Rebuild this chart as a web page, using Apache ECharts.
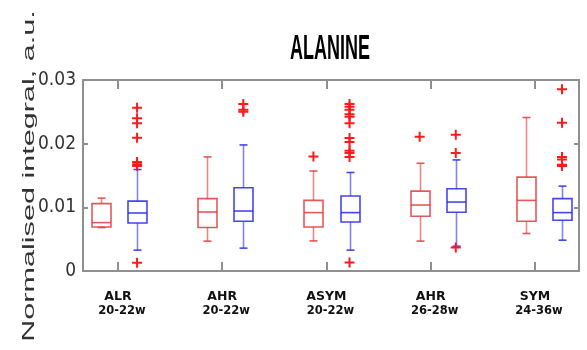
<!DOCTYPE html>
<html>
<head>
<meta charset="utf-8">
<script src="https://cdn.jsdelivr.net/npm/echarts@6/dist/echarts.min.js"></script>
<style>
  html, body { margin: 0; padding: 0; background: #fff; }
  #chart { width: 587px; height: 350px; }
</style>
</head>
<body>
<div id="chart"></div>
<script>
// Group labels (two lines each)
const groups = ['ALR', 'AHR', 'ASYM', 'AHR', 'SYM'];
const periods = ['20-22w', '20-22w', '20-22w', '26-28w', '24-36w'];

// Red boxes: whisker min, Q1, median, Q3, whisker max
const redMin = [0.00683, 0.00469, 0.00473, 0.00469, 0.00589];
const redQ1  = [0.00692, 0.00683, 0.00692, 0.00859, 0.00781];
const redMed = [0.00760, 0.00927, 0.00917, 0.01036, 0.01109];
const redQ3  = [0.01058, 0.01136, 0.01109, 0.01255, 0.01474];
const redMax = [0.01145, 0.01792, 0.01570, 0.01692, 0.02411];

// Blue boxes
const blueMin = [0.00328, 0.00359, 0.00328, 0.00390, 0.00484];
const blueQ1  = [0.00755, 0.00781, 0.00770, 0.00922, 0.00797];
const blueMed = [0.00911, 0.00942, 0.00917, 0.01083, 0.00917];
const blueQ3  = [0.01098, 0.01308, 0.01177, 0.01292, 0.01136];
const blueMax = [0.01594, 0.01980, 0.01547, 0.01745, 0.01333];

// Outliers per group
const redOutliers = [
  [],
  [],
  [0.01800],
  [0.02110],
  []
];
const blueOutliers = [
  [0.02563, 0.02398, 0.02320, 0.02094, 0.01711, 0.01677, 0.01648, 0.00130],
  [0.02625, 0.02531, 0.02500],
  [0.02625, 0.02578, 0.02531, 0.02461, 0.02422, 0.02320, 0.02089, 0.02027, 0.01890, 0.01852, 0.01792, 0.00133],
  [0.02140, 0.01855, 0.00370],
  [0.02855, 0.02328, 0.01792, 0.01750, 0.01667, 0.01648]
];

// Layout / style constants
const X_MIN = 0.661, X_MAX = 5.33;   // value range of the plot frame
const OFFSET = 0.17;                 // box offset from the group centre, in group units
const BOX_W = 19;                    // px
const CAP_W = 8;                     // px
const RED = 'rgba(222,60,60,0.85)';
const RED_W = 'rgba(230,95,95,0.75)';
const BLUE = 'rgba(50,50,235,0.9)';
const BLUE_W = 'rgba(90,90,240,0.75)';
const AXIS_GRAY = '#8f8f8f';
const PLUS = 'path://M4,0h2v4h4v2h-4v4h-2v-4h-4v-2h4z';

// Plot frame geometry
const FRAME = { left: 83, right: 8, top: 80, bottom: 79 };
const chartW = 587;
const plotW = chartW - FRAME.left - FRAME.right;
const unitPx = plotW / (X_MAX - X_MIN);
// A second grid whose category bands are centred on the groups (for ticks + labels)
const BAND_GRID = {
  left: FRAME.left + (1 - X_MIN) * unitPx - unitPx / 2,
  right: FRAME.right + (X_MAX - groups.length) * unitPx - unitPx / 2,
  top: FRAME.top,
  bottom: FRAME.bottom
};

function boxData(mins, q1s, meds, q3s, maxs, shift) {
  return mins.map((v, i) => [i + 1 + shift, v, q1s[i], meds[i], q3s[i], maxs[i]]);
}
function outlierData(list, shift) {
  const out = [];
  list.forEach((vals, i) => vals.forEach(v => out.push([i + 1 + shift, v])));
  return out;
}

function makeRenderer(boxColor, whiskerColor) {
  return function (params, api) {
    const x = api.value(0);
    const pMin = api.coord([x, api.value(1)]);
    const pQ1 = api.coord([x, api.value(2)]);
    const pMed = api.coord([x, api.value(3)]);
    const pQ3 = api.coord([x, api.value(4)]);
    const pMax = api.coord([x, api.value(5)]);
    const cx = Math.round(pMin[0]) + 0.5;
    const hw = BOX_W / 2, cw = CAP_W / 2;
    const bs = { stroke: boxColor, lineWidth: 1.6, fill: null };
    const ws = { stroke: whiskerColor, lineWidth: 1.6 };
    return {
      type: 'group',
      children: [
        { type: 'line', shape: { x1: cx, y1: pQ3[1], x2: cx, y2: pMax[1] }, style: ws },
        { type: 'line', shape: { x1: cx, y1: pQ1[1], x2: cx, y2: pMin[1] }, style: ws },
        { type: 'line', shape: { x1: cx - cw, y1: pMax[1], x2: cx + cw, y2: pMax[1] }, style: bs },
        { type: 'line', shape: { x1: cx - cw, y1: pMin[1], x2: cx + cw, y2: pMin[1] }, style: bs },
        { type: 'rect', shape: { x: cx - hw, y: pQ3[1], width: BOX_W, height: pQ1[1] - pQ3[1] }, style: bs },
        { type: 'line', shape: { x1: cx - hw, y1: pMed[1], x2: cx + hw, y2: pMed[1] }, style: bs }
      ]
    };
  };
}

const chart = echarts.init(document.getElementById('chart'));

const frameX = {
  type: 'value',
  gridIndex: 0,
  min: X_MIN,
  max: X_MAX,
  splitLine: { show: false },
  axisTick: { show: false },
  axisLabel: { show: false },
  axisLine: { show: true, onZero: false, lineStyle: { color: AXIS_GRAY, width: 2 } }
};
const bandX = {
  type: 'category',
  gridIndex: 1,
  data: groups.map((g, i) => i),
  boundaryGap: true,
  splitLine: { show: false },
  axisLine: { show: false, onZero: false },
  axisTick: { show: true, inside: true, length: 9, alignWithLabel: true, lineStyle: { color: AXIS_GRAY, width: 2 } }
};
const frameY = {
  type: 'value',
  gridIndex: 0,
  min: 0,
  max: 0.03,
  interval: 0.01,
  splitLine: { show: false },
  axisLine: { show: true, lineStyle: { color: AXIS_GRAY, width: 2 } },
  axisTick: { show: true, inside: true, length: 5, lineStyle: { color: AXIS_GRAY, width: 2 } }
};

chart.setOption({
  animation: false,
  backgroundColor: '#fff',
  grid: [
    Object.assign({ containLabel: false }, FRAME),
    Object.assign({ containLabel: false }, BAND_GRID)
  ],
  xAxis: [
    Object.assign({}, frameX, { position: 'bottom' }),
    Object.assign({}, frameX, { position: 'top' }),
    Object.assign({}, bandX, {
      position: 'bottom',
      axisLabel: {
        show: true,
        interval: 0,
        margin: 18,
        formatter: (v, i) => '{a|' + groups[i] + '}\n{b|' + periods[i] + '}',
        rich: {
          a: { fontFamily: 'DejaVu Sans', fontWeight: 'bold', fontSize: 12.5, color: '#111', lineHeight: 15 },
          b: { fontFamily: 'DejaVu Sans', fontWeight: 'bold', fontSize: 11.5, color: '#111', lineHeight: 15, padding: [0, 0, 0, 8] }
        }
      }
    }),
    Object.assign({}, bandX, { position: 'top', axisLabel: { show: false } })
  ],
  yAxis: [
    Object.assign({}, frameY, {
      position: 'left',
      axisLabel: {
        show: true,
        margin: 7,
        color: '#333',
        fontFamily: '"DejaVu Sans Condensed", "Liberation Sans"',
        fontSize: 19,
        formatter: v => (v === 0 ? '0' : v.toFixed(2))
      }
    }),
    Object.assign({}, frameY, { position: 'right', axisLabel: { show: false } }),
    { type: 'value', gridIndex: 1, min: 0, max: 0.03, show: false }
  ],
  graphic: [
    {
      type: 'text',
      x: 330, y: 50,
      scaleY: 1.9,
      style: {
        text: 'ALANINE',
        font: 'bold 18px "Liberation Sans"',
        fill: '#000',
        align: 'center',
        verticalAlign: 'middle'
      }
    },
    {
      type: 'text',
      x: 29, y: 176,
      rotation: Math.PI / 2,
      scaleX: 1.8,
      style: {
        text: 'Normalised integral, a.u.',
        font: '17px "Liberation Sans"',
        fill: '#333',
        align: 'center',
        verticalAlign: 'middle'
      }
    }
  ],
  series: [
    {
      name: 'red',
      type: 'custom',
      xAxisIndex: 0, yAxisIndex: 0,
      renderItem: makeRenderer(RED, RED_W),
      data: boxData(redMin, redQ1, redMed, redQ3, redMax, -OFFSET),
      encode: { x: 0, y: [1, 2, 3, 4, 5] },
      z: 2
    },
    {
      name: 'blue',
      type: 'custom',
      xAxisIndex: 0, yAxisIndex: 0,
      renderItem: makeRenderer(BLUE, BLUE_W),
      data: boxData(blueMin, blueQ1, blueMed, blueQ3, blueMax, OFFSET),
      encode: { x: 0, y: [1, 2, 3, 4, 5] },
      z: 2
    },
    {
      name: 'red outliers',
      type: 'scatter',
      xAxisIndex: 0, yAxisIndex: 0,
      symbol: PLUS,
      symbolSize: 10,
      itemStyle: { color: '#ff1a1a', opacity: 1 },
      data: outlierData(redOutliers, -OFFSET),
      z: 3
    },
    {
      name: 'blue outliers',
      type: 'scatter',
      xAxisIndex: 0, yAxisIndex: 0,
      symbol: PLUS,
      symbolSize: 10,
      itemStyle: { color: '#ff1a1a', opacity: 1 },
      data: outlierData(blueOutliers, OFFSET),
      z: 3
    }
  ]
});
</script>
</body>
</html>
